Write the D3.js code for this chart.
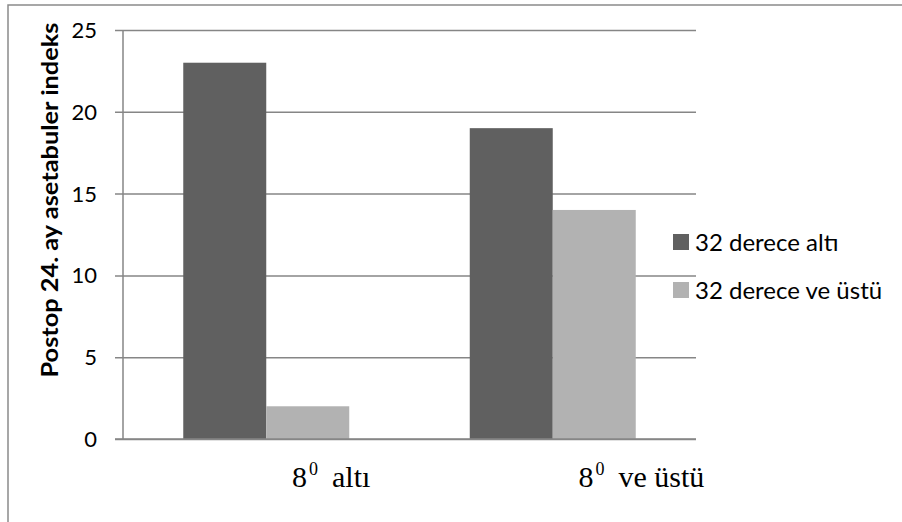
<!DOCTYPE html>
<html>
<head>
<meta charset="utf-8">
<script src="https://cdn.jsdelivr.net/npm/d3@7"></script>
<style>
  html, body { margin: 0; padding: 0; background: #fff; }
  svg { display: block; }
</style>
</head>
<body>
<svg id="chart" width="902" height="522"></svg>
<script>
// ---- data ----
const categories = ["8", "8"];          // base of category label
const categorySup = ["0", "0"];         // superscript part
const categoryRest = ["altı", "ve üstü"];
const seriesNames = ["32 derece altı", "32 derece ve üstü"];
const seriesA = [23, 19];   // 32 derece altı
const seriesB = [2, 14];    // 32 derece ve üstü
const yTicks = [0, 5, 10, 15, 20, 25];
const yTitle = "Postop 24. ay asetabuler indeks";
const colors = ["#606060", "#b2b2b2"];

// ---- layout ----
const svg = d3.select("#chart");
const plot = { left: 123, right: 696, top: 30, bottom: 439 };
const sansFont = "Lato, 'Open Sans', sans-serif";

// outer frame
svg.append("rect")
  .attr("x", 8).attr("y", 5)
  .attr("width", 1000).attr("height", 1000)
  .attr("fill", "none").attr("stroke", "#8a8a8a").attr("stroke-width", 1.5);

const catIdx = categories.map((d, i) => i);
const x0 = d3.scaleBand().domain(catIdx).range([plot.left, plot.right]).padding(0);
const x1 = d3.scaleBand().domain([0, 1]).range([0, x0.bandwidth()]).paddingInner(0).paddingOuter(0.726);
const y = d3.scaleLinear().domain([0, 25]).range([plot.bottom, plot.top]);

// gridlines (also act as tick marks)
const gy = svg.append("g").attr("transform", `translate(${plot.right},0)`)
  .call(d3.axisLeft(y).tickValues(yTicks).tickSize(plot.right - plot.left + 8).tickFormat(""));
gy.select(".domain").remove();
gy.selectAll("line").attr("stroke", "#868686").attr("stroke-width", 1.5);

// tick labels
svg.append("g").selectAll("text").data(yTicks).join("text")
  .attr("x", 97).attr("y", d => y(d))
  .attr("dy", "0.36em")
  .attr("text-anchor", "end")
  .attr("font-family", sansFont)
  .attr("font-size", 22)
  .attr("fill", "#000")
  .text(d => d);

// vertical axis line
svg.append("line")
  .attr("x1", plot.left).attr("x2", plot.left)
  .attr("y1", plot.top).attr("y2", plot.bottom)
  .attr("stroke", "#868686").attr("stroke-width", 1.5);

// bars
const series = [seriesA, seriesB];
const groups = svg.append("g").selectAll("g").data(catIdx).join("g")
  .attr("transform", i => `translate(${x0(i)},0)`);
groups.selectAll("rect").data(i => series.map((s, k) => ({ k, v: s[i] }))).join("rect")
  .attr("x", d => x1(d.k))
  .attr("width", x1.bandwidth())
  .attr("y", d => y(d.v))
  .attr("height", d => y(0) - y(d.v))
  .attr("fill", d => colors[d.k]);

// redraw zero line over bars
svg.append("line")
  .attr("x1", plot.left - 8).attr("x2", plot.right)
  .attr("y1", y(0)).attr("y2", y(0))
  .attr("stroke", "#868686").attr("stroke-width", 1.5);

// category labels
const catG = svg.append("g").selectAll("text").data(catIdx).join("text")
  .attr("x", i => x0(i) + 169)
  .attr("y", 487)
  .attr("font-family", "'Liberation Serif', 'Times New Roman', serif")
  .attr("font-size", 30)
  .attr("fill", "#000");
catG.append("tspan").text(i => categories[i]);
catG.append("tspan").attr("font-size", 18).attr("dx", 2).attr("dy", -12).text(i => categorySup[i]);
catG.append("tspan").attr("dy", 12).attr("dx", 14).text(i => categoryRest[i]);

// y title
svg.append("text")
  .attr("transform", `translate(58,200) rotate(-90)`)
  .attr("text-anchor", "middle")
  .attr("font-family", sansFont)
  .attr("font-weight", "bold")
  .attr("font-size", 22)
  .attr("textLength", 355)
  .attr("lengthAdjust", "spacingAndGlyphs")
  .attr("fill", "#000")
  .text(yTitle);

// legend
const leg = svg.append("g").selectAll("g").data(seriesNames).join("g")
  .attr("transform", (d, i) => `translate(673,${242 + i * 48})`);
leg.append("rect").attr("x", 0).attr("y", -8).attr("width", 16).attr("height", 16)
  .attr("fill", (d, i) => colors[i]);
leg.append("text").attr("x", 22).attr("y", 0).attr("dy", "0.36em")
  .attr("font-family", sansFont)
  .attr("font-size", 24)
  .attr("fill", "#000")
  .text(d => d);
</script>
</body>
</html>
